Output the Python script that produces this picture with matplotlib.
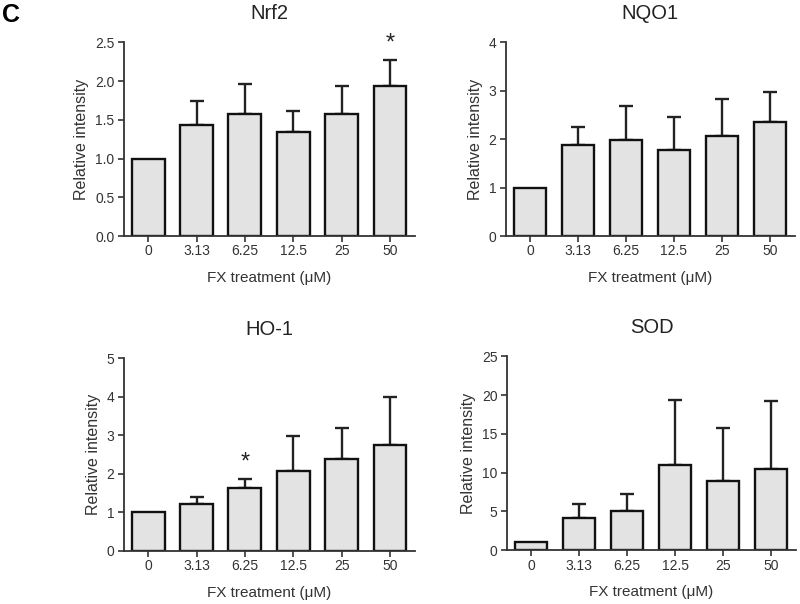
import numpy as np
import matplotlib
matplotlib.use("Agg")
import matplotlib.pyplot as plt

# concentraciones de FX
doses = ["0", "3.13", "6.25", "12.5", "25", "50"]

# medias y error (solo hacia arriba)
nrf2_mean = [1.0, 1.43, 1.58, 1.34, 1.58, 1.93]
nrf2_err = [0.0, 0.31, 0.38, 0.28, 0.36, 0.34]

nqo1_mean = [1.0, 1.88, 1.98, 1.77, 2.06, 2.35]
nqo1_err = [0.0, 0.37, 0.70, 0.68, 0.76, 0.62]

ho1_mean = [1.0, 1.22, 1.63, 2.07, 2.39, 2.75]
ho1_err = [0.0, 0.17, 0.23, 0.90, 0.79, 1.24]

sod_mean = [1.0, 4.12, 5.03, 11.0, 8.93, 10.5]
sod_err = [0.0, 1.89, 2.27, 8.4, 6.77, 8.7]

plt.rcParams['font.family'] = ['Liberation Sans', 'DejaVu Sans']
TXT = "#333333"


def draw_panel(ax, title, means, errs, ymax, ystep, star=None):
    x = np.arange(len(doses))
    means = np.array(means)
    errs = np.array(errs)
    ax.bar(x, means, width=0.68, color="#e3e3e3", edgecolor="#111111",
           linewidth=1.7, zorder=2)
    m = errs > 0
    ax.errorbar(x[m], means[m], yerr=[np.zeros(m.sum()), errs[m]],
                fmt="none", ecolor="#222222", elinewidth=1.7, capsize=5,
                capthick=1.7, zorder=1)
    if star is not None:
        ax.text(x[star], means[star] + errs[star] + ymax * 0.03, "*",
                ha="center", va="bottom", fontsize=17, color="#222222",
                clip_on=False)
    ax.set_xlim(-0.5, 5.52)
    ax.set_ylim(0, ymax)
    ax.set_yticks(np.arange(0, ymax + ystep / 2, ystep))
    if ystep < 1:
        ax.set_yticklabels([f"{v:.1f}" for v in ax.get_yticks()])
    ax.set_xticks(x)
    ax.set_xticklabels(doses)
    for s in ["top", "right"]:
        ax.spines[s].set_visible(False)
    for s in ["left", "bottom"]:
        ax.spines[s].set_linewidth(1.3)
        ax.spines[s].set_color("#333333")
    ax.tick_params(axis="both", direction="out", length=4, width=1.2,
                   color="#333333", labelcolor=TXT, labelsize=10)
    ax.tick_params(axis="x", pad=2)
    ax.tick_params(axis="y", pad=3)
    ax.set_ylabel("Relative intensity", fontsize=11.5, color=TXT, labelpad=4)
    ax.set_xlabel("FX treatment (\u03bcM)", fontsize=11, color=TXT, labelpad=9)
    ax.set_title(title, fontsize=14.5, color="#222222", pad=17)


fig = plt.figure(figsize=(8, 6.04), dpi=100)
ax1 = fig.add_axes([0.155, 0.609, 0.364, 0.321])
ax2 = fig.add_axes([0.6325, 0.609, 0.361, 0.321])
ax3 = fig.add_axes([0.155, 0.088, 0.364, 0.319])
ax4 = fig.add_axes([0.634, 0.089, 0.361, 0.321])

draw_panel(ax1, "Nrf2", nrf2_mean, nrf2_err, 2.5, 0.5, star=5)
draw_panel(ax2, "NQO1", nqo1_mean, nqo1_err, 4, 1)
draw_panel(ax3, "HO-1", ho1_mean, ho1_err, 5, 1, star=2)
draw_panel(ax4, "SOD", sod_mean, sod_err, 25, 5)

fig.text(0.003, 0.995, "C", fontsize=18, fontweight="bold", ha="left", va="top")

fig.savefig("out.png", dpi=100)
plt.close(fig)
